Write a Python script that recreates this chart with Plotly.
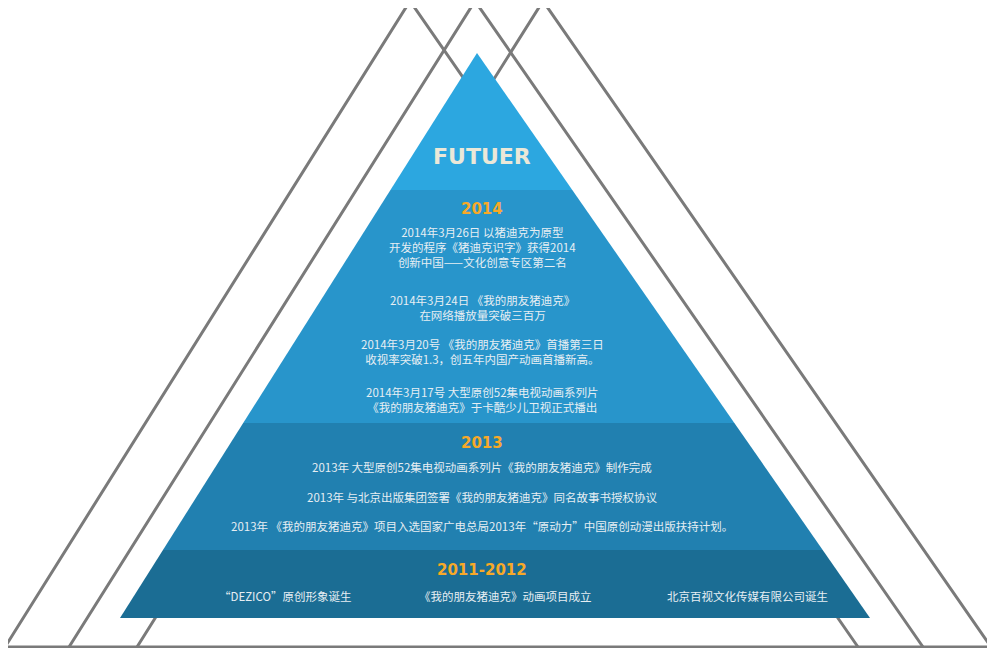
import plotly.graph_objects as go

W, H = 995, 652
outline_tris = [[(5, 649), (410, 3), (858, 649)],
                [(69, 649), (475, 3), (923, 649)],
                [(137, 649), (543, 3), (991, 649)]]
apex = (477, 55)
base_y, base_l, base_r = 620, 120, 870
band_bounds = [55, 192, 425, 552, 620]
band_colors = ["#2ca7e0", "#2895cb", "#2180b0", "#1b6d94"]

years = ["2014", "2013", "2011-2012"]
year_y = [211, 445, 572]
texts_2014 = [
    ("2014年3月26日 以猪迪克为原型<br>开发的程序《猪迪克识字》获得2014<br>创新中国——文化创意专区第二名", 249),
    ("2014年3月24日 《我的朋友猪迪克》<br>在网络播放量突破三百万", 309),
    ("2014年3月20号 《我的朋友猪迪克》首播第三日<br>收视率突破1.3，创五年内国产动画首播新高。", 353),
    ("2014年3月17号 大型原创52集电视动画系列片<br>《我的朋友猪迪克》于卡酷少儿卫视正式播出", 401),
]
texts_2013 = [
    ("2013年 大型原创52集电视动画系列片《我的朋友猪迪克》制作完成", 469),
    ("2013年 与北京出版集团签署《我的朋友猪迪克》同名故事书授权协议", 499),
    ("2013年 《我的朋友猪迪克》项目入选国家广电总局2013年“原动力”中国原创动漫出版扶持计划。", 528),
]
texts_2011 = [("“DEZICO”原创形象诞生", 285, 598), ("《我的朋友猪迪克》动画项目成立", 505, 598),
              ("北京百视文化传媒有限公司诞生", 747, 598)]

def xat(y):
    t = (y - apex[1]) / (base_y - apex[1])
    return apex[0] + t * (base_l - apex[0]), apex[0] + t * (base_r - apex[0])

fig = go.Figure()
shapes = []
for tri in outline_tris:
    (a, b, c) = tri
    shapes.append(dict(type="path", path=f"M{a[0]},{a[1]} L{b[0]},{b[1]} L{c[0]},{c[1]}",
                       line=dict(color="#7a7a7a", width=3), layer="below"))
shapes.append(dict(type="line", x0=0, x1=995, y0=649, y1=649, line=dict(color="#7a7a7a", width=3), layer="below"))
for i in range(4):
    y0, y1 = band_bounds[i], band_bounds[i + 1]
    l0, r0 = xat(y0); l1, r1 = xat(y1)
    shapes.append(dict(type="path", path=f"M{l0},{y0} L{r0},{y0} L{r1},{y1} L{l1},{y1} Z",
                       fillcolor=band_colors[i], line=dict(width=0), layer="below"))

ann = []
F = "Noto Sans CJK SC"
ann.append(dict(x=482, y=158, text="<b>FUTUER</b>", font=dict(family="DejaVu Sans", size=22, color="#ebe8d8")))
for yr, yy in zip(years, year_y):
    ann.append(dict(x=482, y=yy, text="<b>" + yr + "</b>", font=dict(family="DejaVu Sans", size=15, color="#f7a928")))
for t, yy in texts_2014 + texts_2013:
    ann.append(dict(x=482, y=yy, text=t, font=dict(family=F, size=11.5, color="#e6eef3")))
for t, xx, yy in texts_2011:
    ann.append(dict(x=xx, y=yy, text=t, font=dict(family=F, size=11.5, color="#e6eef3")))
for a in ann:
    a.update(xref="x", yref="y", showarrow=False)

OX, OY = 8, 10
fig.update_layout(width=W - 2 * OX, height=H - OY - 2, margin=dict(l=0, r=0, t=0, b=0),
                  paper_bgcolor="white", plot_bgcolor="white", shapes=shapes, annotations=ann,
                  xaxis=dict(range=[OX, W - OX], visible=False, fixedrange=True),
                  yaxis=dict(range=[H - 2, OY], visible=False, fixedrange=True), showlegend=False)
fig.write_html("out.html")
